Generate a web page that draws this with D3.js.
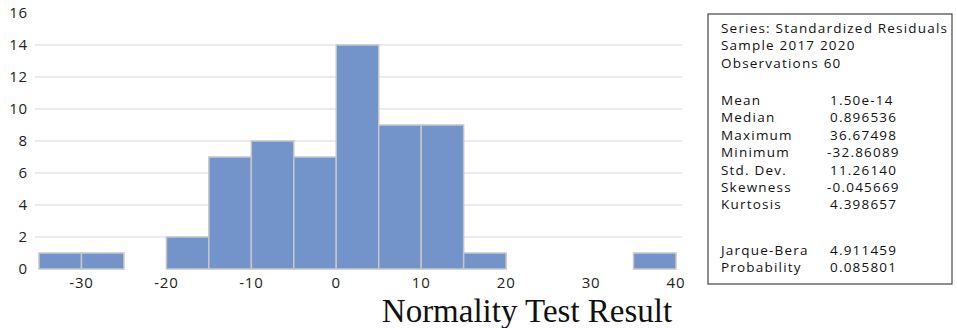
<!DOCTYPE html>
<html>
<head>
<meta charset="utf-8">
<script src="https://cdn.jsdelivr.net/npm/d3@7"></script>
<style>
  body { margin: 0; background: #fff; }
  svg { display: block; }
</style>
</head>
<body>
<div id="chart"></div>
<script>
// histogram bins (left edges, width 5) and counts
const binStarts = [-35, -30, -25, -20, -15, -10, -5, 0, 5, 10, 15, 20, 25, 30, 35];
const binWidth = 5;
const counts = [1, 1, 0, 2, 7, 8, 7, 14, 9, 9, 1, 0, 0, 0, 1];
const xTicks = [-30, -20, -10, 0, 10, 20, 30, 40];
const yTicks = [0, 2, 4, 6, 8, 10, 12, 14, 16];

// statistics panel
const headerLines = ['Series: Standardized Residuals', 'Sample 2017 2020', 'Observations 60'];
const statLabels = ['Mean', 'Median', 'Maximum', 'Minimum', 'Std. Dev.', 'Skewness', 'Kurtosis'];
const statValues = ['1.50e-14', '0.896536', '36.67498', '-32.86089', '11.26140', '-0.045669', '4.398657'];
const testLabels = ['Jarque-Bera', 'Probability'];
const testValues = ['4.911459', '0.085801'];

const title = 'Normality Test Result';

const width = 957, height = 328;
const svg = d3.select('#chart').append('svg')
  .attr('width', width)
  .attr('height', height);

const x = d3.scaleLinear().domain([-35, 40]).range([39, 676]);
const y = d3.scaleLinear().domain([0, 16]).range([269, 13]);

const tickFont = "'Open Sans', sans-serif";

// gridlines
svg.append('g')
  .selectAll('line')
  .data(yTicks.filter(d => d > 0 && d < 16))
  .enter().append('line')
  .attr('x1', 35).attr('x2', 682)
  .attr('y1', d => y(d)).attr('y2', d => y(d))
  .attr('stroke', '#e4e4e4')
  .attr('stroke-width', 1.5);

// y tick labels
svg.append('g')
  .selectAll('text')
  .data(yTicks)
  .enter().append('text')
  .attr('x', 28)
  .attr('y', d => y(d) + 5)
  .attr('text-anchor', 'end')
  .attr('font-family', tickFont)
  .attr('font-size', 15)
  .attr('letter-spacing', 0.8)
  .attr('fill', '#222')
  .text(d => d);

// bars
const bins = binStarts.map((s, i) => ({ x0: s, x1: s + binWidth, n: counts[i] }));
svg.append('g')
  .selectAll('rect')
  .data(bins.filter(d => d.n > 0))
  .enter().append('rect')
  .attr('x', d => x(d.x0))
  .attr('y', d => y(d.n))
  .attr('width', d => x(d.x1) - x(d.x0))
  .attr('height', d => y(0) - y(d.n))
  .attr('fill', '#7294cb')
  .attr('stroke', '#c6c6c6')
  .attr('stroke-width', 1.5);

// x tick labels
svg.append('g')
  .selectAll('text')
  .data(xTicks)
  .enter().append('text')
  .attr('x', d => x(d))
  .attr('y', 288)
  .attr('text-anchor', 'middle')
  .attr('font-family', tickFont)
  .attr('font-size', 15)
  .attr('letter-spacing', 0.8)
  .attr('fill', '#222')
  .text(d => d);

// title
svg.append('text')
  .attr('x', 527)
  .attr('y', 322)
  .attr('text-anchor', 'middle')
  .attr('font-family', "'Liberation Serif', 'Times New Roman', serif")
  .attr('font-size', 33)
  .attr('fill', '#111')
  .text(title);

// stats box
const box = svg.append('g');
box.append('rect')
  .attr('x', 708).attr('y', 14)
  .attr('width', 244).attr('height', 270)
  .attr('fill', 'none')
  .attr('stroke', '#444')
  .attr('stroke-width', 1.2);

const boxFont = "'Open Sans', sans-serif";
const lh = 17.4;
const textX = 721, valX = 830;

function line(tx, ty, s) {
  return box.append('text')
    .attr('x', tx)
    .attr('y', ty)
    .attr('font-family', boxFont)
    .attr('font-size', 13.5)
    .attr('letter-spacing', 1.2)
    .attr('fill', '#111')
    .text(s);
}

headerLines.forEach((h, i) => line(textX, 33 + i * lh, h));

function rows(labels, values, y0) {
  labels.forEach((l, i) => {
    line(textX, y0 + i * lh, l);
    line(values[i].startsWith('-') ? valX - 3 : valX, y0 + i * lh, values[i]);
  });
}
rows(statLabels, statValues, 105);
rows(testLabels, testValues, 255);
</script>
</body>
</html>
